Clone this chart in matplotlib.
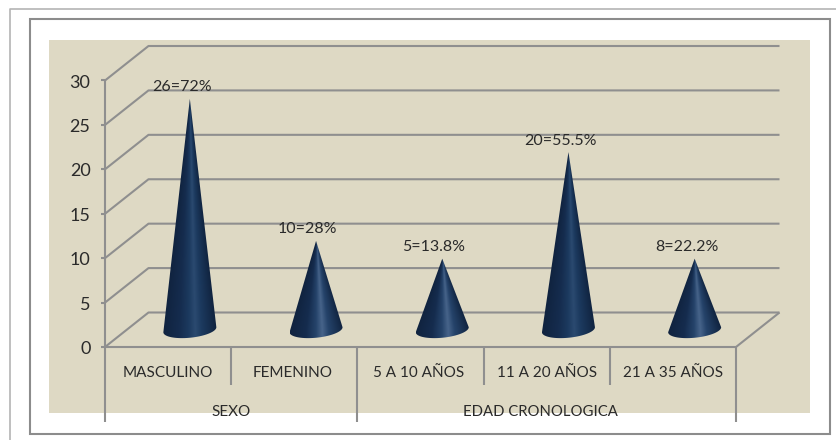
import numpy as np
import matplotlib
matplotlib.use("Agg")
import matplotlib.pyplot as plt
from matplotlib.colors import LinearSegmentedColormap
from matplotlib.patches import Rectangle, Polygon

categories = ["MASCULINO", "FEMENINO", "5 A 10 AÑOS", "11 A 20 AÑOS", "21 A 35 AÑOS"]
groups = ["SEXO", "EDAD CRONOLOGICA"]
group_spans = [(0, 2), (2, 5)]
values = [26, 10, 8, 20, 8]
labels = ["26=72%", "10=28%", "5=13.8%", "20=55.5%", "8=22.2%"]
yticks = [0, 5, 10, 15, 20, 25, 30]

W, H = 837, 440
plt.rcParams['font.family'] = ['Lato', 'DejaVu Sans']
fig = plt.figure(figsize=(W / 100, H / 100), dpi=100, facecolor="white")

# background layer in pixel coordinates
bg = fig.add_axes([0, 0, 1, 1])
bg.set_xlim(0, W); bg.set_ylim(H, 0); bg.axis("off")
bg.plot([837, 10, 10], [9, 9, 440], color="#b4b4b4", lw=1.2)
bg.add_patch(Rectangle((30, 19), 800, 415, fc="white", ec="#8c8c8c", lw=1.5))
bg.add_patch(Rectangle((49, 40), 761, 373, fc="#ded9c4", ec="none"))

# plot axes: front plane of the chart
L, R, T, B = 105, 736, 80.5, 347
ax = fig.add_axes([L / W, 1 - B / H, (R - L) / W, (B - T) / H])
ax.set_xlim(0, 5); ax.set_ylim(0, 30); ax.axis("off")
ax.patch.set_alpha(0)
DX = 43.5 * 5 / (R - L)
DY = 34.5 * 30 / (B - T)
grey = "#8f8f8f"
lw = 1.5
txt = "#2a2a2a"
kw = dict(color=grey, lw=lw, clip_on=False, solid_capstyle="butt")
py = 30 / (B - T)
px = 5 / (R - L)

for v in yticks:
    ax.plot([0, DX, 5 + DX], [v, v + DY, v + DY], **kw)
    ax.plot([-4 * px, 0], [v, v], **kw)
    ax.text(-14.5 * px, v - 2 * py, str(v), ha="right", va="center", fontsize=13, color=txt)
ax.plot([0, 0], [0, 30], **kw)
ax.plot([0, 5, 5 + DX], [0, 0, DY], **kw)

# multi-level category axis
for x in range(6):
    depth = 74.5 if x in (0, 2, 5) else 38
    ax.plot([x, x], [0, -depth * py], **kw)
for i, c in enumerate(categories):
    shift = -2 * px if i in (1, 2) else 0
    ax.text(i + 0.5 + shift, -25.5 * py, c, ha="center", va="center", fontsize=11, color=txt)
for g, (a, b), sz, shift in zip(groups, group_spans, (11, 10.7), (0, -6 * px)):
    ax.text((a + b) / 2 + shift, -64.5 * py, g, ha="center", va="center", fontsize=sz, color=txt)

# cones with a cylindrical-shading gradient
def cone_cmap(band, mid):
    return LinearSegmentedColormap.from_list("cone", [
        (0.0, "#10233f"), (0.3, "#152c4e"), (0.48, mid), (0.6, band),
        (0.72, mid), (1.0, "#10233f")])

half_w = 0.21
half_h = 8 * py
tilt = 2.5 * py
for i, v in enumerate(values):
    tall = v >= 15
    cmap = cone_cmap("#2b4a70" if tall else "#47648a", "#1c3a5f" if tall else "#25436a")
    xc = i + 0.5 + DX / 2
    y0 = DY / 2
    apex = v + y0
    xs = np.linspace(xc - half_w, xc + half_w, 160)
    ys = np.linspace(y0 - half_h - tilt, apex, 400)
    X, Y = np.meshgrid(xs, ys)
    frac = np.clip((apex - Y) / (apex - y0), 1e-3, 1)
    img = np.clip(((X - xc) / (half_w * frac) + 1) / 2, 0, 1)
    im = ax.imshow(img, extent=[xs[0], xs[-1], ys[0], ys[-1]], origin="lower", cmap=cmap,
                   vmin=0, vmax=1, aspect="auto", zorder=3, interpolation="bilinear")
    t = np.linspace(np.pi, 2 * np.pi, 40)
    pts = [(xc, apex)] + [(xc + half_w * np.cos(a), y0 + half_h * np.sin(a) + tilt * np.cos(a)) for a in t]
    im.set_clip_path(Polygon(pts, closed=True, transform=ax.transData))
    ax.text(i + 0.5 + DX / 2 - 0.065, apex + 4.5 * py, labels[i], ha="center", va="bottom",
            fontsize=11.5, color=txt, zorder=4)
ax.set_xlim(0, 5); ax.set_ylim(0, 30)

fig.savefig("out.png", dpi=100, facecolor="white")
